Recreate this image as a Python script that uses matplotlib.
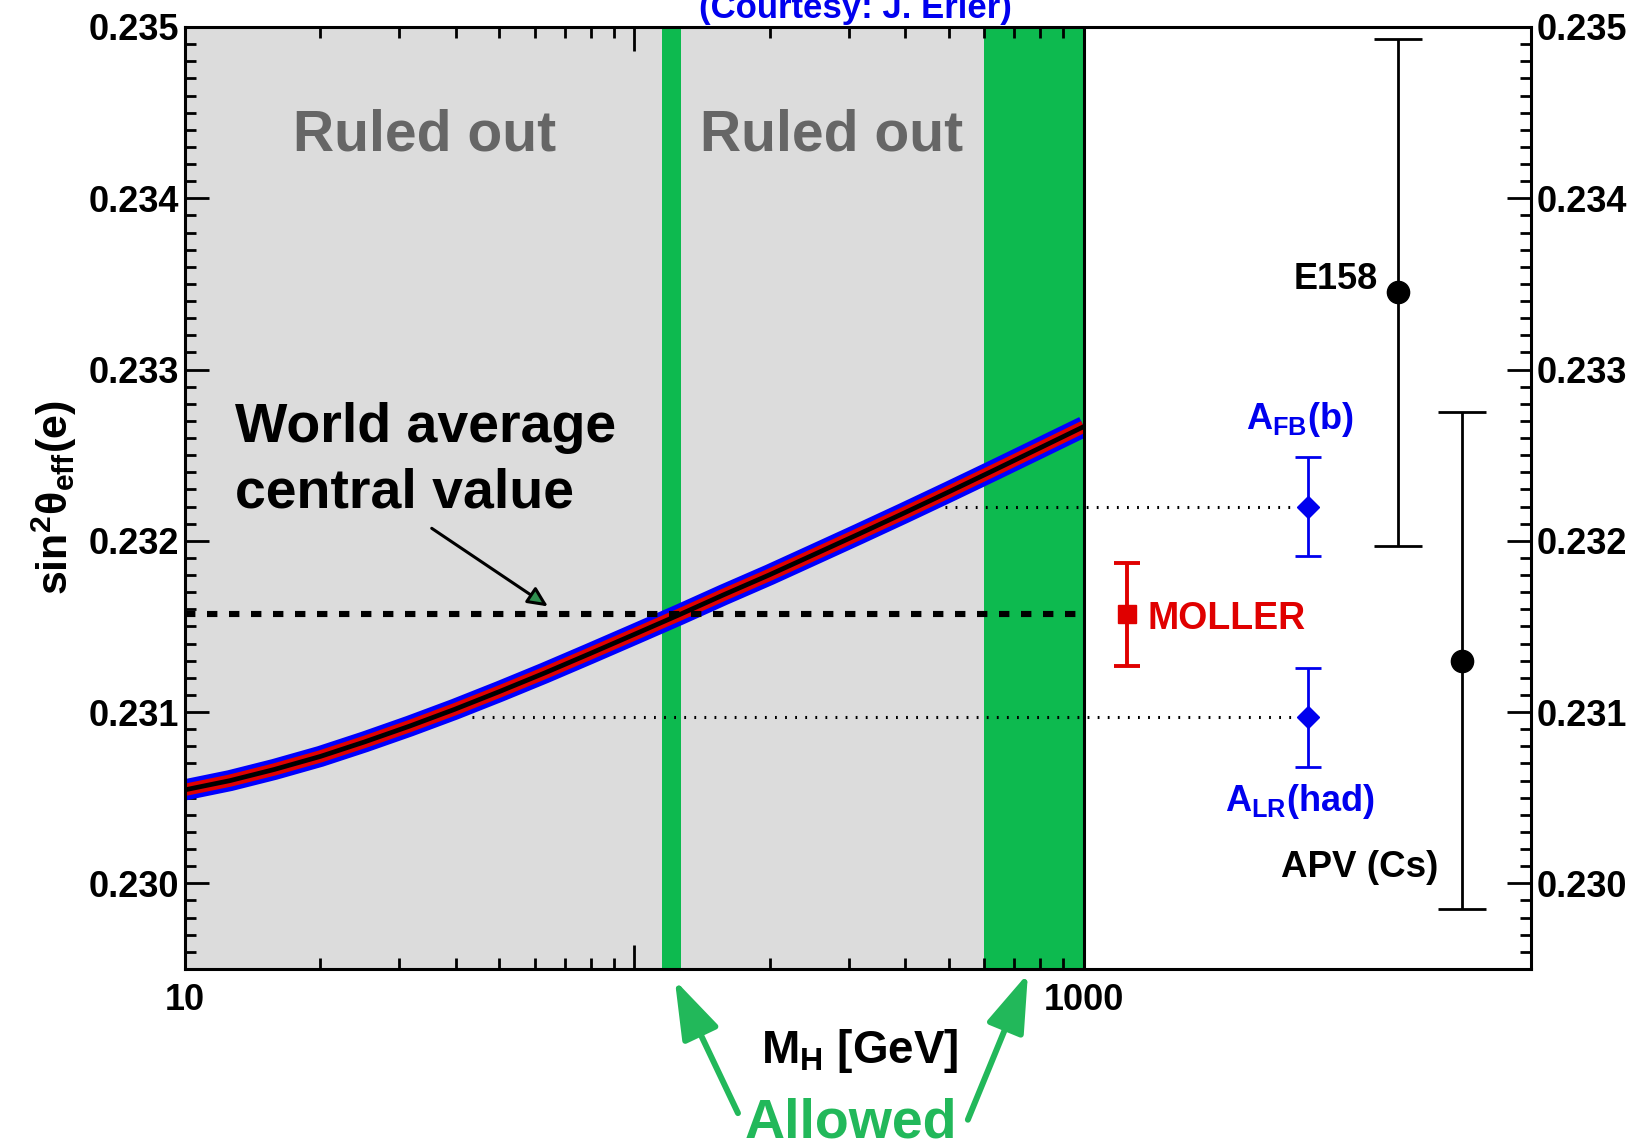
import matplotlib
matplotlib.use("Agg")
import matplotlib.pyplot as plt
from matplotlib.ticker import (FixedLocator, FixedFormatter, NullFormatter,
                               MultipleLocator, FormatStrFormatter)

plt.rcParams['font.family'] = ['Liberation Sans', 'DejaVu Sans']
plt.rcParams['font.weight'] = 'bold'
plt.rcParams['mathtext.fontset'] = 'custom'
plt.rcParams['mathtext.rm'] = 'Liberation Sans:bold'
plt.rcParams['mathtext.it'] = 'Liberation Sans:bold'
plt.rcParams['mathtext.bf'] = 'Liberation Sans:bold'
plt.rcParams['mathtext.sf'] = 'Liberation Sans:bold'

# ---- Standard Model prediction of sin^2(theta_eff) vs Higgs mass ----
mh_curve = [10, 12.6, 15.8, 20, 25.1, 31.6, 39.8, 50.1, 63.1, 79.4, 100,
            126, 158, 200, 251, 316, 398, 501, 631, 794, 1000]
sin2_curve = [0.230546, 0.230600, 0.230665, 0.230741, 0.230826, 0.230918, 0.231016,
              0.231120, 0.231228, 0.231340, 0.231454, 0.231569, 0.231685, 0.231802,
              0.231920, 0.232040, 0.232162, 0.232286, 0.232412, 0.232539, 0.232667]

world_avg = 0.23157
mh_plot_range = [10, 1000]
allowed_low = [115, 127]
allowed_high = [600, 1000]

# ---- measurements ----
meas_names = ['MOLLER', 'A_FB(b)', 'A_LR(had)', 'E158', 'APV (Cs)']
meas_pos = [1245, 3150, 3150, 4990, 6950]
meas_val = [0.23157, 0.23220, 0.23097, 0.23345, 0.23130]
meas_err = [0.00030, 0.00029, 0.00029, 0.00148, 0.00145]
# where the dotted guide lines from the Z-pole points meet the curve
dotted_start = [490, 43.5]

x_ticks = [10, 100, 1000]
x_tick_labels = ['10', '', '1000']
x_minor = [20, 30, 40, 50, 60, 70, 80, 90, 200, 300, 400, 500, 600, 700, 800, 900]

GREEN = '#0DBA4F'
GREEN_TXT = '#22B85A'
GREY = '#DCDCDC'
RED = '#E00000'
BLUE = '#0000EE'

W, H = 1631, 1144
fig = plt.figure(figsize=(W / 100, H / 100), dpi=100)
ax = fig.add_axes([185 / W, 1 - 969 / H, 1346 / W, 942 / H])

ax.set_xscale('log')
ax.set_xlim(10, 10 ** 3.995)
ax.set_ylim(0.2295, 0.235)

# excluded / allowed regions
grey = ax.axvspan(mh_plot_range[0], mh_plot_range[1], color=GREY, lw=0, zorder=0)
ax.axvspan(allowed_low[0], allowed_low[1], color=GREEN, lw=0, zorder=1)
ax.axvspan(allowed_high[0], allowed_high[1], color=GREEN, lw=0, zorder=1)
ax.axvline(mh_plot_range[1], color='black', lw=2.2, zorder=7)

# dotted guides from the curve to the Z-pole measurements
for i, start in zip([1, 2], dotted_start):
    ax.plot([start, meas_pos[i]], [meas_val[i], meas_val[i]], color='black',
            lw=2.2, ls=(0, (0.6, 2.7)), zorder=3)

# theory band: blue edge, red body, black centre
for lw, c in [(15.2, '#0000FF'), (8.8, RED), (3.4, 'black')]:
    ln, = ax.plot(mh_curve, sin2_curve, color=c, lw=lw, solid_capstyle='butt',
                  solid_joinstyle='round', zorder=4)
    ln.set_clip_path(grey)

# world average
ax.plot(mh_plot_range, [world_avg, world_avg], color='black', lw=4.4,
        ls=(0, (1.7, 1.9)), dash_capstyle='butt', zorder=5)

# measurements
ax.errorbar(meas_pos[0], meas_val[0], yerr=meas_err[0], fmt='s', color=RED, ms=13,
            elinewidth=2.8, capsize=9.5, capthick=2.8, zorder=6)
ax.errorbar(meas_pos[1:3], meas_val[1:3], yerr=meas_err[1:3], fmt='D', color=BLUE,
            ms=11, elinewidth=2.0, capsize=9.5, capthick=2.0, zorder=6)
ax.errorbar(meas_pos[3:5], meas_val[3:5], yerr=meas_err[3:5], fmt='o', color='black',
            ms=16, elinewidth=2.0, capsize=17.5, capthick=2.0, zorder=6)

ax.text(1383, 0.231484, meas_names[0], color=RED, fontsize=27, ha='left', va='baseline')
ax.text(3030, 0.23265, r'A$_{FB}$(b)', color=BLUE, fontsize=26, ha='center', va='baseline')
ax.text(3030, 0.230421, r'A$_{LR}$(had)', color=BLUE, fontsize=26, ha='center', va='baseline')
ax.text(4508, 0.233523, meas_names[3], color='black', fontsize=26, ha='right', va='center')
ax.text(6150, 0.230038, meas_names[4], color='black', fontsize=26.5, ha='right', va='baseline')

# annotations inside the excluded region
ax.text(0.178, 0.885, 'Ruled out', transform=ax.transAxes, color='#666666',
        fontsize=41, ha='center', va='center')
ax.text(0.48, 0.885, 'Ruled out', transform=ax.transAxes, color='#666666',
        fontsize=41, ha='center', va='center')
ax.text(0.0371, 0.5594, 'World average', transform=ax.transAxes, color='black',
        fontsize=40, ha='left', va='baseline')
ax.text(0.0371, 0.4894, 'central value', transform=ax.transAxes, color='black',
        fontsize=40, ha='left', va='baseline')
ax.annotate('', xy=(64.2, 0.231617), xytext=(35.4, 0.232073),
            arrowprops=dict(arrowstyle='-|>,head_length=0.6,head_width=0.28',
                            lw=2.2, ec='black', fc='#2f8f4f', mutation_scale=20,
                            shrinkA=0, shrinkB=0), zorder=6)

# ticks
ax.xaxis.set_major_locator(FixedLocator(x_ticks))
ax.xaxis.set_major_formatter(FixedFormatter(x_tick_labels))
ax.xaxis.set_minor_locator(FixedLocator(x_minor))
ax.xaxis.set_minor_formatter(NullFormatter())
ax.yaxis.set_major_locator(MultipleLocator(0.001))
ax.yaxis.set_minor_locator(MultipleLocator(0.0001))
ax.yaxis.set_major_formatter(FormatStrFormatter('%.3f'))
ax.tick_params(which='both', direction='in', top=True, right=True, labelright=True,
               width=2.0, color='black')
ax.tick_params(which='major', length=17)
ax.tick_params(which='minor', length=8)
ax.tick_params(axis='x', labelsize=26, pad=10)
ax.tick_params(axis='y', labelsize=26, pad=4)
for s in ax.spines.values():
    s.set_linewidth(2.2)
    s.set_zorder(8)

ax.text(-0.0973, 0.5, r'sin$^{2}$θ$_{eff}$(e)', transform=ax.transAxes, rotation=90,
        fontsize=31, ha='center', va='center')

fig.text(860 / W, 1 - 1063 / H, r'M$_{H}$ [GeV]', fontsize=33, ha='center', va='baseline')
fig.text(851 / W, 1 - 1138 / H, 'Allowed', color=GREEN_TXT, fontsize=40,
         ha='center', va='baseline')
fig.text(855 / W, 1 - 18 / H, '(Courtesy: J. Erler)', color=BLUE, fontsize=25,
         ha='center', va='baseline')

# arrows pointing to the allowed windows
for tip_x, tip_y, tail_x, tail_y in [(123, -0.0117, 170, -0.153),
                                     (751, -0.0046, 552, -0.160)]:
    ax.annotate('', xy=(tip_x, tip_y), xycoords=('data', 'axes fraction'),
                xytext=(tail_x, tail_y), textcoords=('data', 'axes fraction'),
                arrowprops=dict(arrowstyle='-|>,head_length=1.8,head_width=0.6',
                                color=GREEN_TXT, lw=4.3, mutation_scale=20,
                                shrinkA=0, shrinkB=0),
                annotation_clip=False)

fig.savefig('out.png', dpi=100)
